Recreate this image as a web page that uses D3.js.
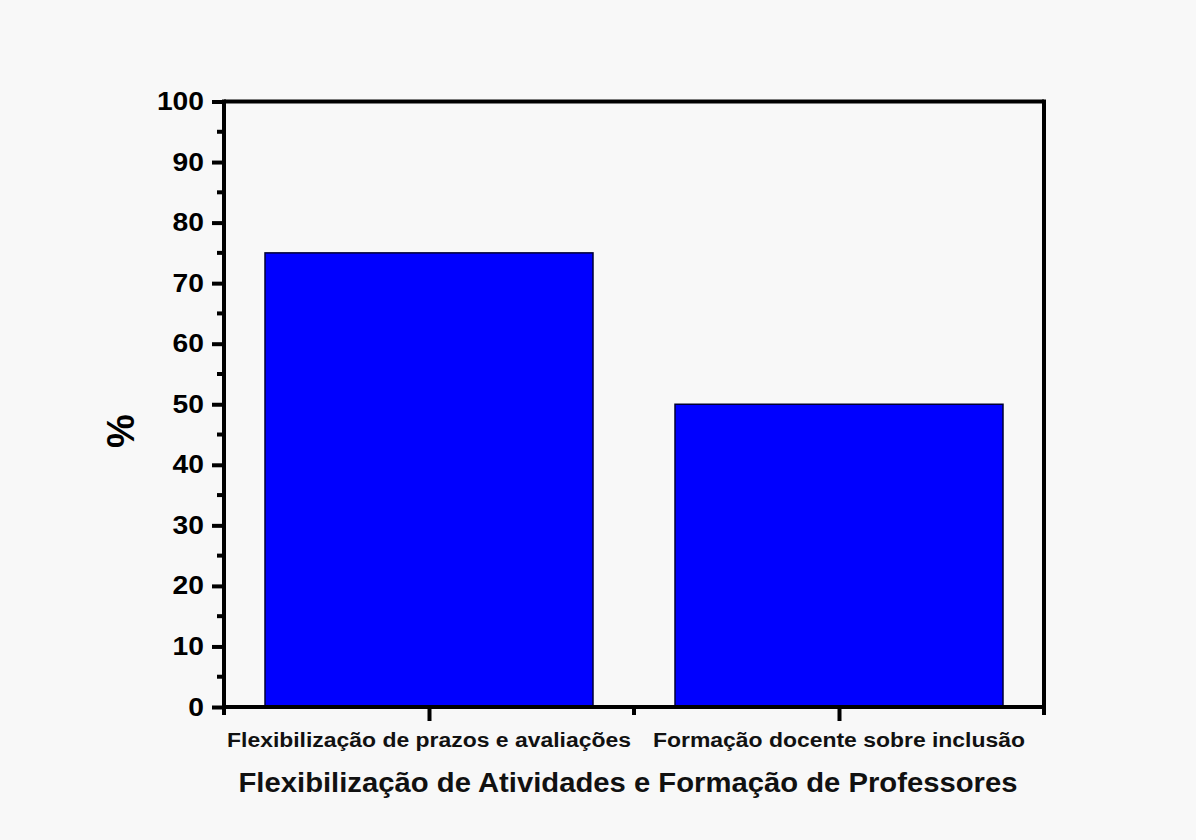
<!DOCTYPE html>
<html><head><meta charset="utf-8">
<script src="https://cdn.jsdelivr.net/npm/d3@7"></script>
<style>
html,body{margin:0;padding:0;background:#f8f8f8;}
svg{display:block;font-family:"Liberation Sans",Arial,sans-serif;}
</style></head>
<body>
<svg id="chart" width="1196" height="840"></svg>
<script>
const categories = ["Flexibilização de prazos e avaliações", "Formação docente sobre inclusão"];
const values = [75, 50];
const yTicks = [0,10,20,30,40,50,60,70,80,90,100];
const xTitle = "Flexibilização de Atividades e Formação de Professores";
const yTitle = "%";

const svg = d3.select("#chart");
const L = 224, R = 1044, T = 101.5, B = 707;
const SX = 1.13; // horizontal text stretch seen in reference

const x = d3.scaleLinear().domain([0.5, 2.5]).range([L, R]);
const y = d3.scaleLinear().domain([0, 100]).range([B, T]);
const barW = 0.8;

svg.append("rect").attr("width",1196).attr("height",840).attr("fill","#f8f8f8");

// bars
svg.selectAll("rect.bar").data(values).enter().append("rect")
  .attr("class","bar")
  .attr("x",(d,i)=>x(i+1-barW/2))
  .attr("width",(d,i)=>x(i+1+barW/2)-x(i+1-barW/2))
  .attr("y",d=>y(d))
  .attr("height",d=>y(0)-y(d))
  .attr("fill","#0000ff")
  .attr("stroke","#000033")
  .attr("stroke-width",1.5);

// frame
svg.append("line").attr("x1",L).attr("x2",R).attr("y1",T).attr("y2",T).attr("stroke","#000").attr("stroke-width",4);
svg.append("line").attr("x1",R).attr("x2",R).attr("y1",T-2).attr("y2",B+2).attr("stroke","#000").attr("stroke-width",4);

// y axis
const yAxis = d3.axisLeft(y).tickValues(yTicks).tickSize(12).tickPadding(7).tickFormat(d3.format("d"));
const gy = svg.append("g").attr("transform",`translate(${L},0)`).call(yAxis);
gy.select(".domain").attr("stroke","#000").attr("stroke-width",4).attr("d",`M0,${T-2}V${B+2}`);
gy.selectAll(".tick line").attr("stroke","#000").attr("stroke-width",4);
gy.selectAll(".tick text").attr("font-size",25).attr("font-weight","bold").attr("fill","#000")
  .attr("x",0).attr("transform",`translate(-20,0) scale(${SX},1)`);
// minor y ticks
const yMinor = d3.range(5,100,10);
svg.append("g").selectAll("line").data(yMinor).enter().append("line")
  .attr("x1",L-7).attr("x2",L).attr("y1",d=>y(d)).attr("y2",d=>y(d))
  .attr("stroke","#000").attr("stroke-width",4);

// x axis
const xAxis = d3.axisBottom(x).tickValues([1,2]).tickSize(14).tickFormat(()=>"");
const gx = svg.append("g").attr("transform",`translate(0,${B})`).call(xAxis);
gx.select(".domain").attr("stroke","#000").attr("stroke-width",4).attr("d",`M${L-2},0H${R+2}`);
gx.selectAll(".tick line").attr("stroke","#000").attr("stroke-width",4);
const xMinor = [0.5,1.5,2.5];
svg.append("g").selectAll("line").data(xMinor).enter().append("line")
  .attr("x1",d=>x(d)).attr("x2",d=>x(d)).attr("y1",B).attr("y2",B+8)
  .attr("stroke","#000").attr("stroke-width",4);

// category labels
svg.append("g").selectAll("text").data(categories).enter().append("text")
  .attr("x",(d,i)=>x(i+1)).attr("y",747)
  .attr("text-anchor","middle").attr("font-size",20).attr("font-weight","bold").attr("fill","#111")
  .text(d=>d)
  .each(function(d,i){ d3.select(this).attr("textLength", i===0?404:372).attr("lengthAdjust","spacingAndGlyphs"); });

// axis titles
svg.append("text").attr("x",628).attr("y",792).attr("text-anchor","middle")
  .attr("font-size",28).attr("font-weight","bold").attr("fill","#111")
  .attr("textLength",779).attr("lengthAdjust","spacingAndGlyphs").text(xTitle);
svg.append("text").attr("transform","translate(134,431) rotate(-90)").attr("text-anchor","middle")
  .attr("font-size",38).attr("font-weight","bold").attr("fill","#000").text(yTitle);
</script>
</body></html>
